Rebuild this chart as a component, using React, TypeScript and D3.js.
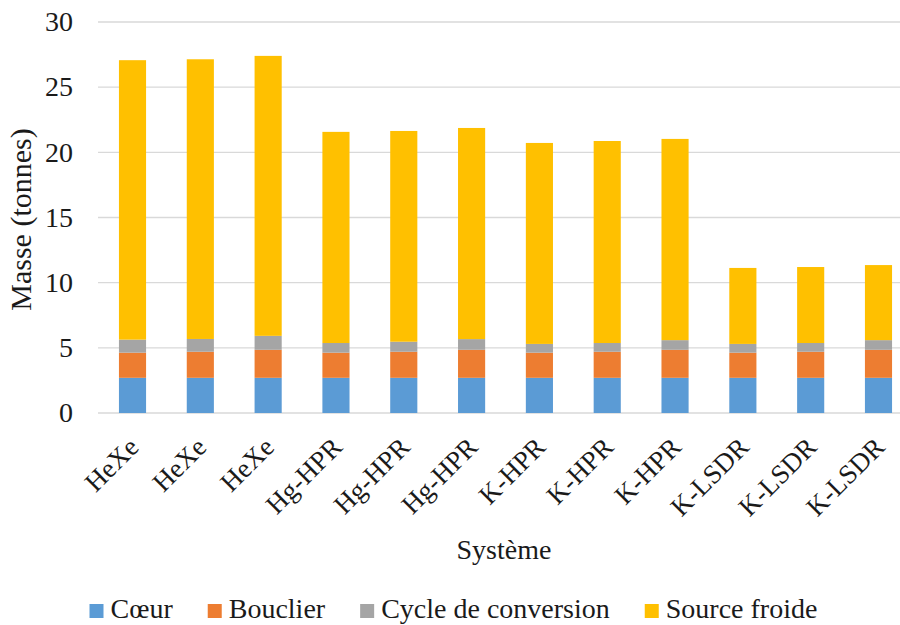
import React, { useEffect, useRef } from 'react';
import * as d3 from 'd3';

const categories = ['HeXe', 'HeXe', 'HeXe', 'Hg-HPR', 'Hg-HPR', 'Hg-HPR', 'K-HPR', 'K-HPR', 'K-HPR', 'K-LSDR', 'K-LSDR', 'K-LSDR'];
const coeur = [2.7, 2.7, 2.7, 2.7, 2.7, 2.7, 2.7, 2.7, 2.7, 2.7, 2.7, 2.7];
const bouclier = [1.93, 2.0, 2.15, 1.93, 2.0, 2.15, 1.93, 2.0, 2.15, 1.93, 2.0, 2.15];
const cycle = [1.0, 0.98, 1.07, 0.74, 0.77, 0.82, 0.67, 0.67, 0.74, 0.67, 0.67, 0.74];
const sourceFroide = [21.44, 21.46, 21.48, 16.2, 16.17, 16.2, 15.42, 15.5, 15.44, 5.83, 5.83, 5.76];
const seriesNames = ['Cœur', 'Bouclier', 'Cycle de conversion', 'Source froide'];
const seriesColors = ['#5b9bd5', '#ed7d31', '#a5a5a5', '#ffc000'];
const yTicks = [0, 5, 10, 15, 20, 25, 30];

const W = 900;
const H = 625;
const FONT = 'Liberation Serif';
const INK = '#1a1a1a';

const App: React.FC = () => {
  const svgRef = useRef<SVGSVGElement>(null);

  useEffect(() => {
    if (!svgRef.current) return;
    const svg = d3.select(svgRef.current);
    svg.selectAll('*').remove();

    const x = d3.scaleBand<number>()
      .domain(categories.map((_, i) => i))
      .range([98.6, 912.4])
      .paddingInner(0.6)
      .paddingOuter(0.3);
    const y = d3.scaleLinear().domain([0, 30]).range([413, 22]);

    // gridlines
    svg.append('g')
      .selectAll('line')
      .data(yTicks)
      .enter().append('line')
      .attr('x1', 98).attr('x2', W)
      .attr('y1', d => y(d)).attr('y2', d => y(d))
      .attr('stroke', '#d9d9d9')
      .attr('stroke-width', 1.3);

    // y tick labels
    svg.append('g')
      .selectAll('text')
      .data(yTicks)
      .enter().append('text')
      .attr('x', 73)
      .attr('y', d => y(d))
      .attr('dy', '0.33em')
      .attr('text-anchor', 'end')
      .attr('font-family', FONT)
      .attr('font-size', 28)
      .attr('fill', INK)
      .text(d => d);

    // stacked bars
    const rows = categories.map((c, i) => ({
      i, c0: coeur[i], c1: bouclier[i], c2: cycle[i], c3: sourceFroide[i],
    }));
    const stack = d3.stack<any>().keys(['c0', 'c1', 'c2', 'c3']);
    const layers = stack(rows);

    svg.append('g')
      .selectAll('g')
      .data(layers)
      .enter().append('g')
      .attr('fill', (_, k) => seriesColors[k])
      .selectAll('rect')
      .data(d => d)
      .enter().append('rect')
      .attr('x', (d: any) => x(d.data.i)!)
      .attr('width', x.bandwidth())
      .attr('y', (d: any) => y(d[1]))
      .attr('height', (d: any) => y(d[0]) - y(d[1]));

    // x labels
    svg.append('g')
      .selectAll('text')
      .data(categories)
      .enter().append('text')
      .attr('transform', (_, i) => `translate(${x(i)! + x.bandwidth() / 2 + 1},${442}) rotate(-45)`)
      .attr('text-anchor', 'end')
      .attr('dy', '0.35em')
      .attr('font-family', FONT)
      .attr('font-size', 27)
      .attr('fill', INK)
      .text(d => d);

    // axis titles
    svg.append('text')
      .attr('transform', `translate(31,${y(15) + 2}) rotate(-90)`)
      .attr('text-anchor', 'middle')
      .attr('font-family', FONT)
      .attr('font-size', 30)
      .attr('fill', INK)
      .text('Masse (tonnes)');

    svg.append('text')
      .attr('x', 504)
      .attr('y', 559)
      .attr('text-anchor', 'middle')
      .attr('font-family', FONT)
      .attr('font-size', 28)
      .attr('fill', INK)
      .text('Système');

    // legend
    const legend = svg.append('g');
    let lx = 89.5;
    seriesNames.forEach((name, k) => {
      const item = legend.append('g').attr('transform', `translate(${lx},0)`);
      item.append('rect')
        .attr('x', 0).attr('y', 604)
        .attr('width', 14).attr('height', 14)
        .attr('fill', seriesColors[k]);
      const t = item.append('text')
        .attr('x', 21).attr('y', 618)
        .attr('font-family', FONT)
        .attr('font-size', 28)
        .attr('fill', INK)
        .text(name);
      const tw = (t.node() as SVGTextElement).getComputedTextLength();
      lx += 21 + tw + 35;
    });
  }, []);

  return (
    <svg
      ref={svgRef}
      width={W}
      height={H}
      style={{ position: 'absolute', left: 0, top: 0, background: '#fff' }}
    />
  );
};

export default App;
